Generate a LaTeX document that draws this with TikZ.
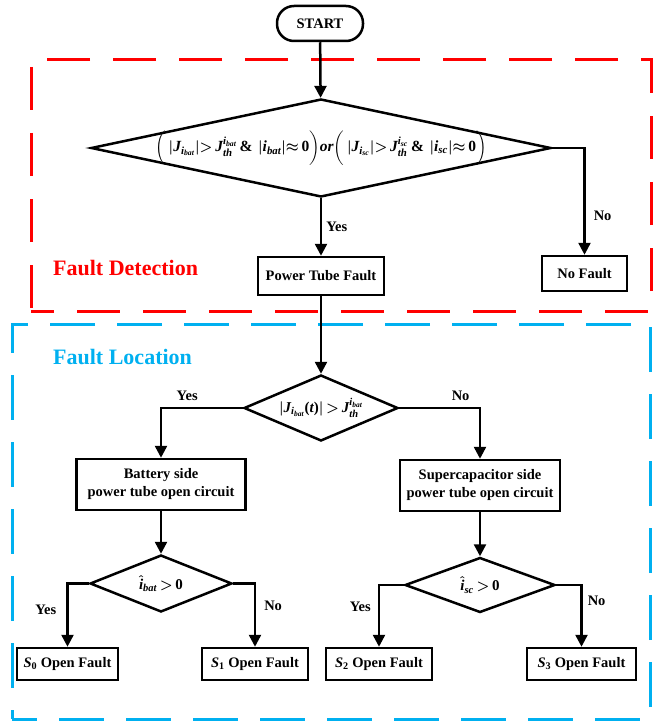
\documentclass[tikz,border=0pt]{standalone}
\usepackage{amsmath}
\usepackage{fontspec}
\setmainfont{Liberation Serif}
\usetikzlibrary{arrows.meta,shapes.geometric}
\definecolor{fdred}{RGB}{255,0,0}
\definecolor{flblue}{RGB}{0,176,240}
\newcommand{\bi}[1]{\text{\bfseries\itshape #1}}
\newcommand{\bu}[1]{\text{\bfseries #1}}
\begin{document}
\thickmuskip=3mu\relax
\medmuskip=2mu\relax
\begin{tikzpicture}[x=1pt,y=-1pt,
  box/.style={draw, line width=2.5pt, rectangle, font=\bfseries\fontsize{14.5}{18}\selectfont, align=center, inner sep=0pt},
  dia/.style={draw, line width=2.5pt, diamond, inner sep=0pt},
  formula/.style={inner sep=0pt, font=\bfseries\fontsize{15}{18}\selectfont\boldmath},
  conn/.style={line width=2.5pt, -{Triangle[length=12pt,width=12pt]}},
  lbl/.style={font=\bfseries\fontsize{14.5}{17}\selectfont, inner sep=0pt},
  frame/.style={line width=3pt, rectangle, inner sep=0pt},
  title/.style={font=\bfseries\fontsize{22}{26}\selectfont, inner sep=0pt, anchor=west}]
\useasboundingbox (0,0) rectangle (664,722);
% frames
\node[frame, draw=fdred, dash pattern=on 43pt off 23pt, dash phase=20pt, minimum width=620pt, minimum height=251pt] (detect) at (341,185.5) {};
\node[frame, draw=flblue, dash pattern=on 45pt off 22pt, dash phase=20pt, minimum width=638pt, minimum height=395pt] (locate) at (331,521.5) {};
\node[title, text=fdred] (fdt) at (53,268) {Fault Detection};
\node[title, text=flblue] (flt) at (53,357) {Fault Location};
% nodes
\node[draw, rounded corners=17pt, line width=2.5pt, minimum width=86pt, minimum height=35pt, inner sep=0pt, font=\bfseries\fontsize{14.5}{17}\selectfont] (start) at (320,23.5) {START};
\node[dia, minimum width=460pt, minimum height=98pt] (d1) at (321,148) {};
\node[formula, font=\bfseries\fontsize{15.5}{18}\selectfont\boldmath] (f1) at (d1.center)
 {$\bigg(\left|\bi{J}_{\bi{i}_{\bi{bat}}}\right|\!> \bi{J}_{\bi{th}}^{\bi{i}_{\bi{bat}}}\;\bu{\&}\;\left|\bi{i}_{\bi{bat}}\right|\!\approx\bu{0}\bigg)\bi{or}\bigg(\left|\bi{J}_{\bi{i}_{\bi{sc}}}\right|\!> \bi{J}_{\bi{th}}^{\bi{i}_{\bi{sc}}}\;\bu{\&}\;\left|\bi{i}_{\bi{sc}}\right|\!\approx\bu{0}\bigg)$};
\node[box, minimum width=126pt, minimum height=38pt] (ptf) at (321,276) {Power Tube Fault};
\node[box, minimum width=85pt, minimum height=35pt] (nf) at (584.5,273.5) {No Fault};
\node[dia, minimum width=154pt, minimum height=66pt] (d2) at (321,408) {};
\node[formula] (f2) at (d2.center)
 {$\left|\bi{J}_{\bi{i}_{\bi{bat}}}\bu{(}\bi{t}\bu{)}\right| > \bi{J}_{\bi{th}}^{\bi{i}_{\bi{bat}}}$};
\node[box, minimum width=169pt, minimum height=51pt] (bat) at (161,484.5) {Battery side\\power tube open circuit};
\node[box, minimum width=160pt, minimum height=51pt] (sc) at (480,485.5) {Supercapacitor side\\power tube open circuit};
\node[dia, minimum width=142pt, minimum height=57pt] (d3) at (161,583.5) {};
\node[formula] (f3) at (d3.center) {$\hat{\bi{i}}_{\bi{bat}} > \bu{0}$};
\node[dia, minimum width=150pt, minimum height=55pt] (d4) at (480,585) {};
\node[formula] (f4) at (d4.center) {$\hat{\bi{i}}_{\bi{sc}} > \bu{0}$};
\node[box, minimum width=101pt, minimum height=32pt] (s0) at (67.5,664) {$\bi{S}_{\bu{0}}$ Open Fault};
\node[box, minimum width=106pt, minimum height=32pt] (s1) at (255,664) {$\bi{S}_{\bu{1}}$ Open Fault};
\node[box, minimum width=106pt, minimum height=32pt] (s2) at (379,664) {$\bi{S}_{\bu{2}}$ Open Fault};
\node[box, minimum width=109pt, minimum height=32pt] (s3) at (581.5,664) {$\bi{S}_{\bu{3}}$ Open Fault};
% connectors
\draw[conn] (start) -- (d1);
\draw[conn] (d1) -- node[lbl, right=4pt] {Yes} (ptf);
\draw[conn] (d1.east) -| node[lbl, pos=0.82, right=8pt] {No} (nf);
\draw[conn] (ptf) -- (d2);
\draw[conn] (d2.west) -| node[lbl, pos=0.34, above=6pt] {Yes} (bat);
\draw[conn] (d2.east) -| node[lbl, pos=0.38, above=6pt] {No} (sc);
\draw[conn] (bat) -- (d3);
\draw[conn] (sc) -- (d4);
\draw[conn] (d3.west) -| node[lbl, pos=0.71, left=10pt] {Yes} (s0);
\draw[conn] (d3.east) -| node[lbl, pos=0.68, right=8pt] {No} (s1);
\draw[conn] (d4.west) -| node[lbl, pos=0.68, left=7pt] {Yes} (s2);
\draw[conn] (d4.east) -| node[lbl, pos=0.63, right=5pt] {No} (s3);
\end{tikzpicture}
\end{document}
